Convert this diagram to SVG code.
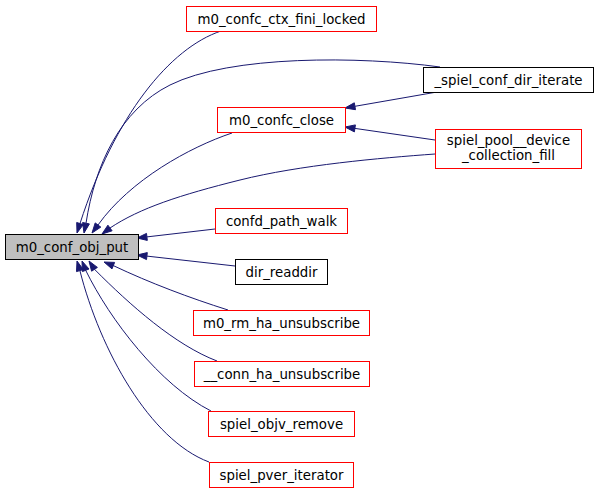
<svg xmlns="http://www.w3.org/2000/svg" width="599" height="493" viewBox="0 0 599 493">
<style>
.n rect{fill:#ffffff;stroke:#ff0000;stroke-width:1}
.n.b rect{stroke:#000000}
.n.m rect{fill:#bfbfbf;stroke:#000000}
.n text{font-family:"DejaVu Sans",sans-serif;font-size:13.33px;fill:#000000;text-anchor:middle}
.e path{fill:none;stroke:#191970;stroke-width:1}
.e polygon{fill:#191970;stroke:#191970;stroke-width:1}
</style>
<rect width="599" height="493" fill="#ffffff"/>
<g id="edges" class="e">
<path d="M221,31 C170,48 115,115 80,223.5"/>
<polygon points="77,233 83.3,224.6 76.7,222.5"/>
<path d="M440,67 C360,56 230,55 170,85 C120,110 95,165 86,223.2"/>
<polygon points="84,233 89.4,223.9 82.6,222.5"/>
<path d="M437,92 L354.9,106.3"/>
<polygon points="345,108 355.5,109.7 354.3,102.8"/>
<path d="M435,140 L354.9,128.4"/>
<polygon points="345,127 355.4,124.9 354.4,131.9"/>
<path d="M232,133 C190,147 130,180 98,225"/>
<polygon points="92,233 100.8,227.1 95.2,222.9"/>
<path d="M435,154 C380,158 300,165 240,180 C180,195 140,208 110,228"/>
<polygon points="102,234 112.1,230.8 107.9,225.2"/>
<path d="M215,229 L146.9,236.9"/>
<polygon points="137,238 147.3,240.4 146.5,233.4"/>
<path d="M235,266 L146.9,256.1"/>
<polygon points="137,255 147.3,252.6 146.5,259.6"/>
<path d="M228,310 C190,298 150,283 113.3,265.6"/>
<polygon points="104,262 114.6,262.4 112,268.9"/>
<path d="M217,361 C175,345 130,305 94.5,269.3"/>
<polygon points="89,261 97.4,267.4 91.6,271.2"/>
<path d="M211,411 C160,385 110,320 85.7,270.3"/>
<polygon points="82,261 89,269 82.4,271.6"/>
<path d="M209,462 C150,440 100,350 79.9,270.6"/>
<polygon points="77,261 83.3,269.6 76.5,271.6"/>
</g>
<g id="m0_conf_obj_put" class="n m"><rect x="5.5" y="234.5" width="133" height="25"/><text x="72" y="251.5">m0_conf_obj_put</text></g>
<g id="m0_confc_ctx_fini_locked" class="n"><rect x="186.5" y="6.5" width="190" height="25"/><text x="281.5" y="23.5">m0_confc_ctx_fini_locked</text></g>
<g id="_spiel_conf_dir_iterate" class="n b"><rect x="423.5" y="67.5" width="170" height="25"/><text x="508.5" y="84.5">_spiel_conf_dir_iterate</text></g>
<g id="m0_confc_close" class="n"><rect x="217.5" y="107.5" width="128" height="25"/><text x="281.5" y="124.5">m0_confc_close</text></g>
<g id="spiel_pool__device_collection_fill" class="n"><rect x="435.5" y="129.5" width="146" height="39"/><text x="508.5" y="145">spiel_pool__device</text><text x="508.5" y="160">_collection_fill</text></g>
<g id="confd_path_walk" class="n"><rect x="215.5" y="208.5" width="132" height="25"/><text x="281.5" y="225.5">confd_path_walk</text></g>
<g id="dir_readdir" class="n b"><rect x="235.5" y="259.5" width="92" height="25"/><text x="281.5" y="276.5">dir_readdir</text></g>
<g id="m0_rm_ha_unsubscribe" class="n"><rect x="193.5" y="310.5" width="176" height="25"/><text x="281.5" y="327.5">m0_rm_ha_unsubscribe</text></g>
<g id="__conn_ha_unsubscribe" class="n"><rect x="194.5" y="361.5" width="175" height="25"/><text x="282" y="378.5">__conn_ha_unsubscribe</text></g>
<g id="spiel_objv_remove" class="n"><rect x="208.5" y="411.5" width="146" height="25"/><text x="281.5" y="428.5">spiel_objv_remove</text></g>
<g id="spiel_pver_iterator" class="n"><rect x="209.5" y="462.5" width="144" height="25"/><text x="281.5" y="479.5">spiel_pver_iterator</text></g>
</svg>
